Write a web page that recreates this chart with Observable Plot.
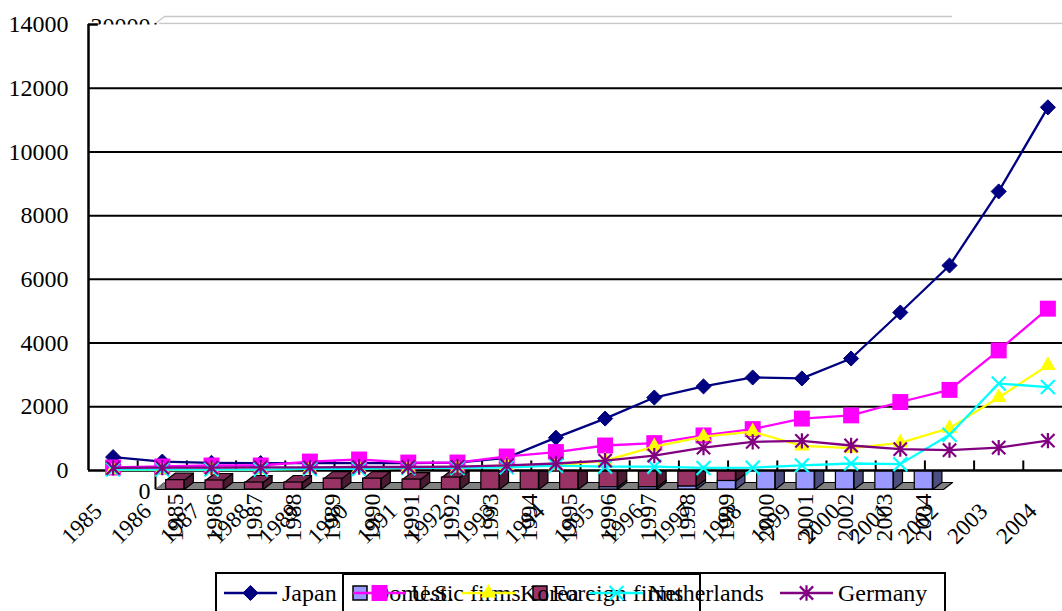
<!DOCTYPE html>
<html><head><meta charset="utf-8">
<script src="https://cdn.jsdelivr.net/npm/d3@7"></script>
<script src="https://cdn.jsdelivr.net/npm/@observablehq/plot@0.6"></script>
<style>
body{margin:0;background:#fff;}
#wrap{position:relative;width:1062px;height:611px;overflow:hidden;font-family:"Liberation Serif","Times New Roman",serif;}
#wrap > svg{position:absolute;left:0;top:0;}
#wrap svg text{font-family:"Liberation Serif","Times New Roman",serif;}
</style></head><body><div id="wrap"></div>
<script>
// ---- data ----
const years = [1985,1986,1987,1988,1989,1990,1991,1992,1993,1994,1995,1996,1997,1998,1999,2000,2001,2002,2003,2004];
const lineSeries = ["Japan","U.S.","Korea","Netherlands","Germany"];
const japan       = [420,280,240,230,230,230,230,250,400,1030,1630,2290,2640,2920,2890,3515,4960,6435,8760,11400];
const us          = [95,125,157,157,280,345,250,250,440,580,785,860,1100,1300,1630,1730,2150,2530,3770,5080];
const korea       = [20,20,20,30,50,60,80,80,160,150,310,750,1060,1220,770,700,870,1330,2290,3300];
const netherlands = [30,30,30,30,50,50,80,80,100,150,120,120,80,90,160,220,200,1120,2730,2620];
const germany     = [80,90,90,100,100,110,110,120,160,220,310,470,720,900,930,785,670,640,720,940];
const yTicks = [0,2000,4000,6000,8000,10000,12000,14000];

const barSeries = ["Domestic firms","Foreign firms"];
const domestic = [0,0,0,0,0,0,0,0,0,0,0,150,150,200,550,3000,3500,4000,4500,5000];
const foreign  = [600,580,450,450,700,700,640,770,1500,2000,2300,2600,2900,3200,2800,2500,2400,2300,2200,2100];
const barTicks = [0,30000];

// ---- styles ----
const lineColors = ["#000080","#FF00FF","#FFFF00","#00FFFF","#800080"];
const barFront = ["#9999FF","#993366"];
const barTop   = ["#7F7FD4","#7A2952"];
const barSide  = ["#4D4D80","#4C1933"];
const font = '"Liberation Serif","Times New Roman",serif';
const svgStyle = 'background:transparent;overflow:visible;color:#000;font-family:"Liberation Serif","Times New Roman",serif;';

const asteriskSym = {draw(ctx, size){ const r = Math.sqrt(size)*0.5; ctx.moveTo(-r,-r); ctx.lineTo(r,r); ctx.moveTo(-r,r); ctx.lineTo(r,-r); ctx.moveTo(0,-r*1.15); ctx.lineTo(0,r*1.15);} };
const markerSpec = [
  {symbol:"diamond2", r:6.8, fill:lineColors[0], stroke:lineColors[0], strokeWidth:1},
  {symbol:"square", r:9, fill:lineColors[1], stroke:"none"},
  {symbol:"triangle", r:5.8, fill:lineColors[2], stroke:"none"},
  {symbol:"times", r:6.4, fill:"none", stroke:lineColors[3], strokeWidth:2.2},
  {symbol:asteriskSym, r:7.5, fill:"none", stroke:lineColors[4], strokeWidth:2.2}
];

const wrap = document.getElementById("wrap");

// ---- background 3D bar chart ----
const X0 = 1984.5, X1 = 2004.5, D = 0.23, H = 450, HW = 0.23;
const segs = [];
years.forEach((yr,i)=>{
  if (domestic[i] > 0) segs.push({k:0, year:yr, y0:0, y1:domestic[i]});
  if (foreign[i] > 0) segs.push({k:1, year:yr, y0:domestic[i], y1:domestic[i]+foreign[i]});
});
function sideRows(list){ const out=[]; list.forEach((s,j)=>{ const xr=s.year+HW; [[xr,s.y0],[xr,s.y1],[xr+D,s.y1+H],[xr+D,s.y0+H],[xr,s.y0]].forEach(p=>out.push({id:j,x:p[0],y:p[1]})); }); return out; }
function topRows(list){ const out=[]; list.forEach((s,j)=>{ const xl=s.year-HW, xr=s.year+HW; [[xl,s.y1],[xl+D,s.y1+H],[xr+D,s.y1+H],[xr,s.y1],[xl,s.y1]].forEach(p=>out.push({id:j,x:p[0],y:p[1]})); }); return out; }

const barMarks = [
  Plot.line([{x:X0,y:0},{x:X0+D,y:H},{x:X1+D,y:H},{x:X1,y:0},{x:X0,y:0}], {x:"x",y:"y",fill:"#808080",stroke:"#000",strokeWidth:1.2}),
  Plot.line([{x:X0,y:0},{x:X0+D,y:H}], {x:"x",y:"y",stroke:"#aaa",strokeWidth:1}),
  Plot.line([{x:X0,y:30000},{x:X0+D,y:30000+H}], {x:"x",y:"y",stroke:"#c8c8c8",strokeWidth:1.2}),
  Plot.ruleY([30000+H], {x1:X0+D, x2:X1+D, stroke:"#c8c8c8", strokeWidth:1.5}),
  Plot.ruleY([30000], {x1:X0+0.1, x2:2008, stroke:"#c8c8c8", strokeWidth:1.5}),
  Plot.ruleX([X0], {y1:0, y2:30000, stroke:"#000", strokeWidth:2})
];
[0,1].forEach(k=>{
  const list = segs.filter(s=>s.k===k);
  barMarks.push(Plot.line(sideRows(list), {x:"x",y:"y",z:"id",fill:barSide[k],stroke:"#000",strokeWidth:1.2}));
  barMarks.push(Plot.line(topRows(list), {x:"x",y:"y",z:"id",fill:barTop[k],stroke:"#000",strokeWidth:1.2}));
  barMarks.push(Plot.rect(list, {x1:d=>d.year-HW, x2:d=>d.year+HW, y1:"y0", y2:"y1", fill:barFront[k], stroke:"#000", strokeWidth:1.2}));
});
barMarks.push(
  Plot.axisY([barTicks[0]], {label:null, tickSize:0, tickPadding:5, dy:2, fontSize:24, fontFamily:font, fill:"#000", tickFormat:d=>String(d)}),
  Plot.axisY([barTicks[1]], {label:null, tickSize:0, tickPadding:5, dy:3, fontSize:24, fontFamily:font, fill:"#000", tickFormat:d=>String(d)}),
  Plot.axisX(years, {label:null, tickRotate:-90, tickSize:0, tickPadding:4, fontSize:24, fontFamily:font, fill:"#000", tickFormat:d=>String(d)})
);
const barPlot = Plot.plot({
  width:1062, height:560, marginLeft:155, marginRight:119, marginTop:23, marginBottom:71,
  x:{domain:[X0,X1], label:null}, y:{domain:[0,30000], label:null},
  style: svgStyle,
  marks: barMarks
});
wrap.appendChild(barPlot);

// ---- foreground line chart ----
const seriesVals = [japan, us, korea, netherlands, germany];
const lineMarks = [
  Plot.frame({fill:"white", stroke:"none"}),
  Plot.ruleY(yTicks.filter(v=>v>0 && v<14000), {stroke:"#000", strokeWidth:2}),
  Plot.ruleX(years.slice(1).map(y=>y-0.5), {y1:0, y2:300, stroke:"#000", strokeWidth:2}),
  Plot.ruleY([0], {stroke:"#000", strokeWidth:2.5}),
  Plot.ruleX([X0], {y1:0, y2:14000, stroke:"#000", strokeWidth:2.5}),
  Plot.ruleY([14000], {x1:X0, x2:X0+0.2, stroke:"#000", strokeWidth:2.5})
];
seriesVals.forEach((vals,i)=>{
  const rows = years.map((yr,j)=>({year:yr, v:vals[j]}));
  lineMarks.push(Plot.line(rows, {x:"year", y:"v", stroke:lineColors[i], strokeWidth:2.3}));
  lineMarks.push(Plot.dot(rows, {x:"year", y:"v", ...markerSpec[i]}));
});
lineMarks.push(
  Plot.axisY(yTicks, {label:null, tickSize:0, tickPadding:20, fontSize:24, fontFamily:font, fill:"#000", tickFormat:d=>String(d)}),
  Plot.axisX(years, {label:null, tickRotate:-45, tickSize:0, tickPadding:37, dx:-15, fontSize:23, fontFamily:font, fill:"#000", tickFormat:d=>String(d)})
);
const linePlot = Plot.plot({
  width:1062, height:560, marginLeft:88, marginRight:0, marginTop:24, marginBottom:90,
  x:{domain:[X0,X1], range:[88,1072], label:null}, y:{domain:[0,14000], range:[470,24], label:null},
  style: svgStyle,
  marks: lineMarks
});
wrap.appendChild(linePlot);

// ---- legends (bar chart legend beneath, line chart legend above) ----
const leg = d3.select(wrap).append("svg").attr("width",1062).attr("height",611)
  .style("position","absolute").style("left","0").style("top","0").style("pointer-events","none");
const ly = 593;
leg.append("rect").attr("x",343).attr("y",574).attr("width",357).attr("height",60).attr("fill","none").attr("stroke","#000").attr("stroke-width",2);
const barLegX = [353, 533];
barSeries.forEach((name,k)=>{
  leg.append("rect").attr("x",barLegX[k]).attr("y",ly-7).attr("width",14).attr("height",14).attr("fill",barFront[k]).attr("stroke","#000").attr("stroke-width",1.5);
  leg.append("text").attr("x",barLegX[k]+19).attr("y",ly).attr("dy","0.35em").attr("font-family",font).attr("font-size",24).attr("fill","#000").text(name);
});
leg.append("rect").attr("x",216).attr("y",573).attr("width",729).attr("height",60).attr("fill","none").attr("stroke","#000").attr("stroke-width",2);
const lineLegX = [224, 353, 462, 590, 780];
lineSeries.forEach((name,i)=>{
  const x = lineLegX[i];
  leg.append("line").attr("x1",x).attr("x2",x+53).attr("y1",ly).attr("y2",ly).attr("stroke",lineColors[i]).attr("stroke-width",2.3);
  const m = markerSpec[i];
  const symType = typeof m.symbol === "string" ? ({diamond2:d3.symbolDiamond2, square:d3.symbolSquare, triangle:d3.symbolTriangle, times:d3.symbolTimes})[m.symbol] : m.symbol;
  leg.append("path").attr("d", d3.symbol(symType, m.r*m.r*Math.PI)()).attr("transform",`translate(${x+26.5},${ly})`)
    .attr("fill",m.fill).attr("stroke",m.stroke).attr("stroke-width",m.strokeWidth||0);
  leg.append("text").attr("x",x+58).attr("y",ly).attr("dy","0.35em").attr("font-family",font).attr("font-size",24).attr("fill","#000").text(name);
});
</script></body></html>
